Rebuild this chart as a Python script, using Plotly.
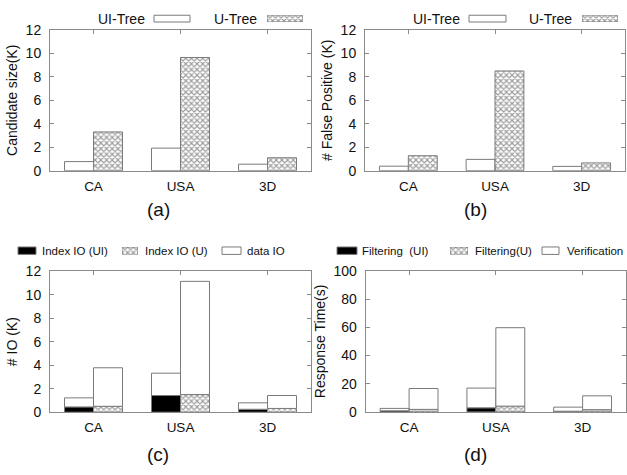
import plotly.graph_objects as go

# ---------------- data ----------------
categories = ["CA", "USA", "3D"]
cand_ui = [0.77, 1.92, 0.55]
cand_u = [3.3, 9.65, 1.1]
fp_ui = [0.38, 0.96, 0.36]
fp_u = [1.27, 8.5, 0.66]
index_io_ui = [0.45, 1.42, 0.25]
index_io_u = [0.5, 1.5, 0.32]
data_io_ui = [0.77, 1.9, 0.55]
data_io_u = [3.28, 9.63, 1.1]
filter_ui = [0.8, 2.9, 0.5]
filter_u = [1.8, 4.1, 1.6]
verif_ui = [1.7, 14.0, 2.9]
verif_u = [14.8, 55.6, 9.8]

W, H = 627, 475
FONT = "Liberation Sans, Arial, sans-serif"
LINE = "#7a7a7a"
AXC = "#8a8a8a"


def xd(x0, x1):
    return [x0 / W, x1 / W]


def yd(y0, y1):
    return [1 - y1 / H, 1 - y0 / H]


def hatch():
    return dict(shape="x", fgcolor="#3c3c3c", bgcolor="white", size=4, solidity=0.5)


fig = go.Figure()

BW = 1 / 3


def bar(xa, ya, y, offset, kind, base=None):
    if kind == "white":
        marker = dict(color="white", line=dict(color=LINE, width=1))
    elif kind == "black":
        marker = dict(color="black", line=dict(color=LINE, width=1))
    else:
        marker = dict(color="white", pattern=hatch(), line=dict(color=LINE, width=1))
    fig.add_trace(go.Bar(x=categories, y=y, base=base, width=BW, offset=offset,
                         marker=marker, xaxis=xa, yaxis=ya, showlegend=False,
                         hoverinfo="skip"))


# (a)
bar("x", "y", cand_ui, -BW, "white")
bar("x", "y", cand_u, 0, "hatch")
# (b)
bar("x2", "y2", fp_ui, -BW, "white")
bar("x2", "y2", fp_u, 0, "hatch")
# (c)
bar("x3", "y3", index_io_ui, -BW, "black")
bar("x3", "y3", data_io_ui, -BW, "white", base=index_io_ui)
bar("x3", "y3", index_io_u, 0, "hatch")
bar("x3", "y3", data_io_u, 0, "white", base=index_io_u)
# (d)
bar("x4", "y4", filter_ui, -BW, "black")
bar("x4", "y4", verif_ui, -BW, "white", base=filter_ui)
bar("x4", "y4", filter_u, 0, "hatch")
bar("x4", "y4", verif_u, 0, "white", base=filter_u)

panels = [
    (50, 311, 22.7, 168.3, [0, 12], 2, "Candidate size(K)"),
    (365, 625, 22.7, 168.3, [0, 12], 2, "# False Positive (K)"),
    (50, 311, 272.3, 418.3, [0, 12], 2, "# IO (K)"),
    (365.7, 626, 272, 418, [0, 100], 20, "Response Time(s)"),
]

layout = dict(width=W, height=H, margin=dict(l=0, r=0, t=0, b=0), autosize=False,
              paper_bgcolor="white", plot_bgcolor="white", barmode="overlay",
              font=dict(family=FONT, color="#111", size=14), showlegend=False)

for i, (x0, x1, y0, y1, yr, dt, title) in enumerate(panels):
    n = "" if i == 0 else str(i + 1)
    layout["xaxis" + n] = dict(domain=xd(x0, x1), anchor="y" + n, range=[-0.5, 2.5],
                               type="category", showline=True, mirror="ticks",
                               linecolor=AXC, linewidth=1, ticks="inside", ticklen=4,
                               tickcolor=AXC, showgrid=False, zeroline=False,
                               tickfont=dict(size=13.5, family=FONT, color="#111"),
                               ticklabelstandoff=3, fixedrange=True)
    layout["yaxis" + n] = dict(domain=yd(y0, y1), anchor="x" + n, range=yr, dtick=dt,
                               showline=True, mirror="ticks", linecolor=AXC, linewidth=1,
                               ticks="inside", ticklen=4, tickcolor=AXC, showgrid=False,
                               zeroline=False, tickfont=dict(size=14, family=FONT, color="#111"),
                               ticklabelstandoff=5,
                               title=dict(text=title, font=dict(size=14, family=FONT, color="#111"),
                                          standoff=4),
                               fixedrange=True)

# legend swatches
shapes = []
ann = []


def box(x0, x1, y0, y1, fill):
    shapes.append(dict(type="rect", xref="paper", yref="paper",
                       x0=x0 / W, x1=x1 / W, y0=1 - y1 / H, y1=1 - y0 / H,
                       fillcolor=fill, line=dict(color=LINE, width=1)))


swatch_ax = [5]


def hatch_box(x0, x1, y0, y1):
    k = str(swatch_ax[0])
    swatch_ax[0] += 1
    layout["xaxis" + k] = dict(domain=xd(x0, x1), anchor="y" + k, range=[-0.5, 0.5],
                               visible=False, fixedrange=True)
    layout["yaxis" + k] = dict(domain=yd(y0, y1), anchor="x" + k, range=[0, 1],
                               visible=False, fixedrange=True)
    fig.add_trace(go.Bar(x=[0], y=[1], width=1, xaxis="x" + k, yaxis="y" + k,
                         marker=dict(color="white", pattern=hatch(),
                                     line=dict(color=LINE, width=1)),
                         cliponaxis=False, showlegend=False, hoverinfo="skip"))


def text(s, x, y, anchor, size):
    ann.append(dict(text=s, x=x / W, y=1 - y / H, xref="paper", yref="paper",
                    xanchor=anchor, yanchor="middle", showarrow=False,
                    font=dict(size=size, family=FONT, color="#111")))


# (a) legend
text("UI-Tree", 147, 11, "right", 14)
box(154, 190, 7.5, 14.5, "white")
text("U-Tree", 259, 11, "right", 14)
hatch_box(267, 303, 7.5, 14.5)
# (b) legend
text("UI-Tree", 462, 11, "right", 14)
box(469, 506, 7.5, 14.5, "white")
text("U-Tree", 574, 11, "right", 14)
hatch_box(582, 618, 7.5, 14.5)
# (c) legend
box(18, 36, 247.3, 255, "black")
text("Index IO (UI)", 40, 251, "left", 11.5)
hatch_box(122, 138, 247.3, 255)
text("Index IO (U)", 143, 251, "left", 11.5)
box(222, 241, 247.3, 255, "white")
text("data IO", 245, 251, "left", 11.5)
# (d) legend
box(337, 357, 247.3, 255, "black")
text("Filtering  (UI)", 360, 251, "left", 11.5)
hatch_box(450, 468, 247.3, 255)
text("Filtering(U)", 473, 251, "left", 11.5)
box(542, 559, 247.3, 255, "white")
text("Verification", 565, 251, "left", 11.5)

# panel labels
text("(a)", 158, 209, "center", 19)
text("(b)", 475, 209, "center", 19)
text("(c)", 158, 462, "center", 19)
text("(d)", 475, 462, "center", 19)

layout["shapes"] = shapes
layout["annotations"] = ann
fig.update_layout(**layout)
fig.write_html("out.html", config={"displayModeBar": False, "staticPlot": True},
               post_script="document.body.style.margin='0px';document.body.style.overflow='hidden';")
